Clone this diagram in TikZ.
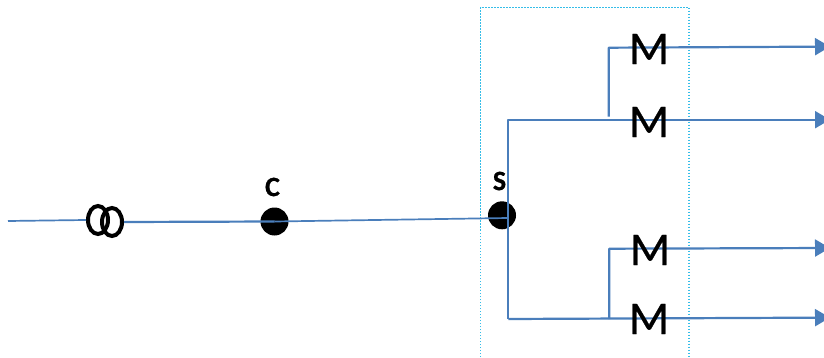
\documentclass[tikz,border=0pt]{standalone}
\usepackage{fontspec}
\setmainfont{Carlito}
\newfontfamily\heavyM[FakeBold=0.7]{Carlito}
\newfontfamily\heavyT[FakeBold=0.8]{Carlito Bold}
\usetikzlibrary{arrows.meta,shapes.geometric}
\definecolor{wire}{HTML}{4A7EBB}
\definecolor{boxc}{HTML}{35BDE8}
\tikzset{
  x=1pt,y=-1pt,
  wire/.style={draw=wire,line width=2.2pt,line join=round},
  feed/.style={wire,-{Triangle[length=15pt,width=17pt,fill=wire]}},
  bigM/.style={font=\heavyM\fontsize{47}{47}\selectfont,text=black,inner sep=0pt,anchor=center},
  tag/.style={font=\heavyT\fontsize{28}{28}\selectfont,text=black,inner sep=0pt,anchor=center},
  dot/.style={circle,fill=black,minimum size=28pt,inner sep=0pt},
  coil/.style={draw=black,line width=4pt,fill=none,ellipse,minimum width=20pt,minimum height=28pt,inner sep=0pt},
  frame/.style={draw=boxc,line width=1.5pt,dash pattern=on 1.5pt off 1.5pt}
}
\begin{document}
\begin{tikzpicture}
\useasboundingbox (0,0) rectangle (824,358);
\clip (0,0) rectangle (824,358);
% frame
\coordinate (fbl) at (480.7,360);
\coordinate (ftl) at (480.7,7.5);
\coordinate (ftr) at (689,7.5);
\coordinate (fbr) at (689,360);
\draw[frame] (fbl) -- (ftl) -- (ftr) -- (fbr);
% free ends
\coordinate (in) at (8,221);
\coordinate (bt) at (508.3,119.7);
\coordinate (bb) at (508.3,319);
\coordinate (t1) at (830,119.7);
\coordinate (t2) at (830,46.6);
\coordinate (t3) at (830,248);
\coordinate (t4) at (830,317.6);
\coordinate (k1) at (608.8,116.7);
\coordinate (k2) at (608.8,47.7);
\coordinate (k3) at (609.3,248.7);
\coordinate (k4) at (609.3,319);
\coordinate (sj) at (508.3,218);
% dots
\node[dot] (c) at (274.5,221.5) {};
\node[dot] (s) at (502,215.3) {};
% coils
\node[coil] (c1) at (98,220) {};
\node[coil] (c2) at (112,222) {};
% wires
\draw[wire,line width=1.7pt] (in) -- (c1.west);
\draw[wire] (c2.east) -- (c.center);
\draw[wire,line width=1.7pt] (c.center) -- (sj);
\draw[feed] (bb) -- (bt) -- (t1);
\draw[feed] (k1) -- (k2) -- (t2);
\draw[feed] (k4) -- (k3) -- (t3);
\draw[feed] (bb) -- (t4);
% labels
\node[bigM] (m1) at (649,49) {M};
\node[bigM] (m2) at (649,122) {M};
\node[bigM] (m3) at (650,250) {M};
\node[bigM] (m4) at (649,319) {M};
\node[tag] (lc) at (272.5,187) {C};
\node[tag] (ls) at (499.5,181) {S};
\end{tikzpicture}
\end{document}
